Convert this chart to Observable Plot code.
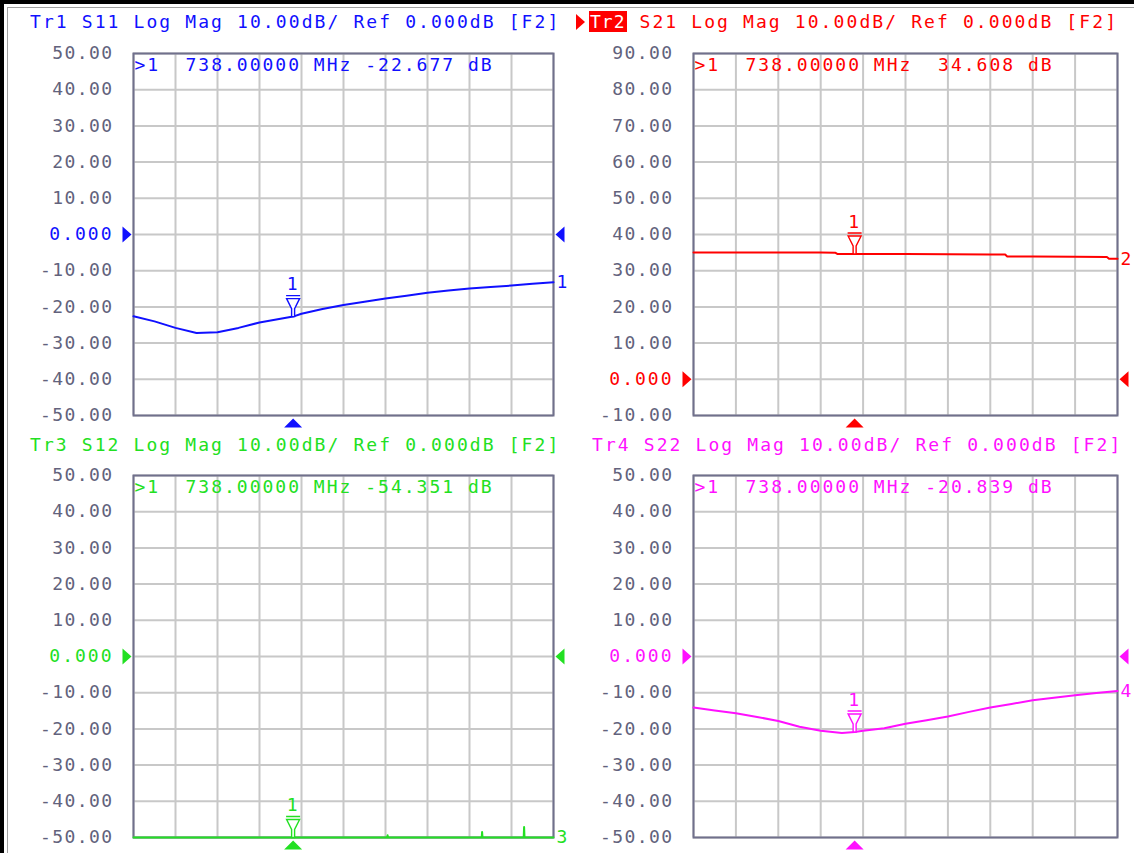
<!DOCTYPE html>
<html><head><meta charset="utf-8">
<script src="https://cdn.jsdelivr.net/npm/d3@7"></script>
<script src="https://cdn.jsdelivr.net/npm/@observablehq/plot@0.6"></script>
<style>
body{margin:0;background:#fff;}
#screen{position:relative;width:1134px;height:853px;overflow:hidden;background:#fff;font-family:"DejaVu Sans Mono",monospace;}
.hdr{position:absolute;font-size:18px;letter-spacing:2.1px;white-space:pre;line-height:20px;font-family:"DejaVu Sans Mono",monospace;}
.pnl{position:absolute;}
.tri{display:inline-block;width:0;height:0;border-top:8px solid transparent;border-bottom:8px solid transparent;border-left:9px solid #ff0000;vertical-align:-2px;margin-right:4px;letter-spacing:0;}
.act{background:#ff0000;color:#fff;letter-spacing:1px;padding:0 1px;}
</style></head><body><div id="screen"></div>
<script>
// ---- data ----
const stimulusMHz = [700, 800];
const markerMHz = 738;
const gridMHz = [700, 710, 720, 730, 740, 750, 760, 770, 780, 790, 800];

const titles = [
  "Tr1 S11 Log Mag 10.00dB/ Ref 0.000dB [F2]",
  "Tr2 S21 Log Mag 10.00dB/ Ref 0.000dB [F2]",
  "Tr3 S12 Log Mag 10.00dB/ Ref 0.000dB [F2]",
  "Tr4 S22 Log Mag 10.00dB/ Ref 0.000dB [F2]"
];
const readouts = [
  "738.00000 MHz -22.677 dB",
  "738.00000 MHz  34.608 dB",
  "738.00000 MHz -54.351 dB",
  "738.00000 MHz -20.839 dB"
];
const markerDb = [-22.677, 34.608, -54.351, -20.839];
const traceNames = ["1", "2", "3", "4"];
const traceColors = ["#1010ff", "#ff0000", "#22e022", "#ff10ff"];
const yRanges = [[-50, 50], [-10, 90], [-50, 50], [-50, 50]];

const s11Freq = [700, 705, 710, 715, 720, 725, 730, 735, 738, 740, 745, 750, 755, 760, 765, 770, 775, 780, 785, 790, 795, 800];
const s11Db   = [-22.6, -24.0, -25.8, -27.2, -27.0, -25.8, -24.3, -23.3, -22.68, -21.9, -20.6, -19.5, -18.6, -17.7, -16.9, -16.1, -15.5, -14.9, -14.5, -14.1, -13.6, -13.2];

const s21Freq = [700, 710, 720, 730, 733.5, 734, 740, 750, 760, 770, 773.5, 774, 780, 790, 797.5, 798, 800];
const s21Db   = [35.05, 35.05, 35.0, 35.0, 34.95, 34.6, 34.6, 34.6, 34.55, 34.5, 34.45, 33.9, 33.9, 33.85, 33.8, 33.3, 33.3];

const s12Freq = [700, 710, 720, 730, 738, 750, 760, 760.4, 760.5, 760.6, 770, 782, 782.9, 783, 783.1, 792, 792.9, 793, 793.1, 800];
const s12Db   = [-58.0, -57.0, -56.0, -55.0, -54.35, -53.0, -52.0, -52.0, -49.4, -52.0, -51.5, -51.0, -51.0, -48.5, -51.0, -50.5, -50.5, -47.1, -50.5, -50.2];

const s22Freq = [700, 705, 710, 715, 720, 725, 730, 735, 738, 740, 745, 750, 755, 760, 765, 770, 775, 780, 785, 790, 795, 800];
const s22Db   = [-14.1, -14.9, -15.7, -16.7, -17.8, -19.4, -20.5, -21.1, -20.84, -20.5, -19.8, -18.6, -17.6, -16.6, -15.3, -14.1, -13.1, -12.1, -11.4, -10.7, -10.1, -9.5];

const traceFreqs = [s11Freq, s21Freq, s12Freq, s22Freq];
const traceDbs = [s11Db, s21Db, s12Db, s22Db];

// ---- layout ----
const boxes = [
  {left: 0,   top: 0,   width: 567, height: 440, mt: 53, mb: 25, ml: 133, mr: 14, hx: 30,  hy: 12},
  {left: 567, top: 0,   width: 567, height: 440, mt: 53, mb: 25, ml: 126, mr: 17, hx: 576, hy: 12},
  {left: 0,   top: 440, width: 567, height: 413, mt: 35, mb: 16, ml: 133, mr: 14, hx: 30,  hy: 435},
  {left: 567, top: 440, width: 567, height: 413, mt: 35, mb: 16, ml: 126, mr: 17, hx: 592, hy: 435}
];

const gridColor = "#c8c8c8";
const frameColor = "#70708c";
const labelColor = "#62627c";

const leftRef = {draw(c){ c.moveTo(-2,0); c.lineTo(-11,-8); c.lineTo(-11,8); c.closePath(); }};
const rightRef = {draw(c){ c.moveTo(2,0); c.lineTo(11,-8); c.lineTo(11,8); c.closePath(); }};
const bottomTri = {draw(c){ c.moveTo(0,3); c.lineTo(9,12); c.lineTo(-9,12); c.closePath(); }};
const markerGlyph = {draw(c){
  c.moveTo(-7,-21); c.lineTo(7,-21);
  c.moveTo(-6.5,-18); c.lineTo(6.5,-18); c.lineTo(1.5,-8); c.lineTo(1.5,0); c.lineTo(-1.5,0); c.lineTo(-1.5,-8); c.closePath();
}};

const screen = document.getElementById("screen");

function makePanel(i) {
  const b = boxes[i];
  const color = traceColors[i];
  const [ymin, ymax] = yRanges[i];
  const ticks = d3.range(ymin, ymax + 1, 10);
  const data = traceFreqs[i].map((f, k) => ({f, v: traceDbs[i][k]}));
  const last = data[data.length - 1];
  const svg = Plot.plot({
    width: b.width, height: b.height,
    marginTop: b.mt, marginBottom: b.mb, marginLeft: b.ml, marginRight: b.mr,
    style: {fontFamily: "DejaVu Sans Mono, monospace", fontSize: "18px", letterSpacing: "2px", background: "transparent", overflow: "visible"},
    x: {domain: stimulusMHz, axis: null},
    y: {domain: [ymin, ymax], clamp: true, axis: null},
    marks: [
      Plot.gridX(gridMHz, {stroke: gridColor, strokeOpacity: 1, strokeWidth: 2}),
      Plot.gridY(ticks, {stroke: gridColor, strokeOpacity: 1, strokeWidth: 2}),
      Plot.frame({stroke: frameColor, strokeWidth: 2}),
      Plot.axisY(ticks.filter(t => t !== 0), {label: null, tickSize: 0, tickPadding: 20, tickFormat: d => d.toFixed(2), fill: labelColor, fontSize: 18}),
      Plot.text([0], {y: d => d, frameAnchor: "left", dx: -20, text: () => "0.000", textAnchor: "end", fill: color, fontSize: 18}),
      Plot.dot([0], {y: d => d, frameAnchor: "left", symbol: leftRef, fill: color, stroke: "none"}),
      Plot.dot([0], {y: d => d, frameAnchor: "right", symbol: rightRef, fill: color, stroke: "none"}),
      Plot.text([">1"], {frameAnchor: "top-left", lineAnchor: "middle", text: d => d, dx: 1, dy: 12, textAnchor: "start", fill: color, fontSize: 18}),
      Plot.text([readouts[i]], {frameAnchor: "top-left", lineAnchor: "middle", text: d => d, dx: 52, dy: 12, textAnchor: "start", fill: color, fontSize: 18}),
      Plot.line(data, {x: "f", y: "v", stroke: color, strokeWidth: 2}),
      Plot.text([last], {x: "f", y: "v", text: () => traceNames[i], dx: 3, textAnchor: "start", fill: color, fontSize: 18}),
      Plot.dot([{f: markerMHz, v: markerDb[i]}], {x: "f", y: "v", symbol: markerGlyph, r: 5, stroke: color, fill: "white", strokeWidth: 1.4}),
      Plot.text([{f: markerMHz, v: markerDb[i]}], {x: "f", y: "v", text: () => "1", dy: -32, fill: color, fontSize: 18}),
      Plot.dot([markerMHz], {x: d => d, frameAnchor: "bottom", symbol: bottomTri, r: 5, fill: color, stroke: "none"})
    ]
  });
  d3.select(svg).selectAll('[aria-label="y-axis tick label"] text').style("letter-spacing", "1.4px");
  const wrap = document.createElement("div");
  wrap.className = "pnl";
  wrap.style.left = b.left + "px";
  wrap.style.top = b.top + "px";
  wrap.appendChild(svg);
  screen.appendChild(wrap);

  const h = document.createElement("div");
  h.className = "hdr";
  h.style.left = b.hx + "px";
  h.style.top = b.hy + "px";
  h.style.color = color;
  if (i === 1) {
    const rest = titles[i].slice(3);
    h.innerHTML = '<span class="tri"></span><span class="act">' + titles[i].slice(0, 3) + '</span>' + rest;
  } else {
    h.textContent = titles[i];
  }
  screen.appendChild(h);
}

[0, 1, 2, 3].forEach(makePanel);

// outer bezel
const bz = (css) => { const d = document.createElement("div"); d.style.cssText = "position:absolute;" + css; screen.appendChild(d); };
bz("left:0;top:0;width:4px;height:853px;background:#000;");
bz("left:0;top:0;width:1134px;height:4px;background:#000;");
bz("left:7px;top:7px;width:1px;height:846px;background:#a0a0a0;");
bz("left:7px;top:7px;width:1127px;height:1px;background:#a0a0a0;");
</script></body></html>
